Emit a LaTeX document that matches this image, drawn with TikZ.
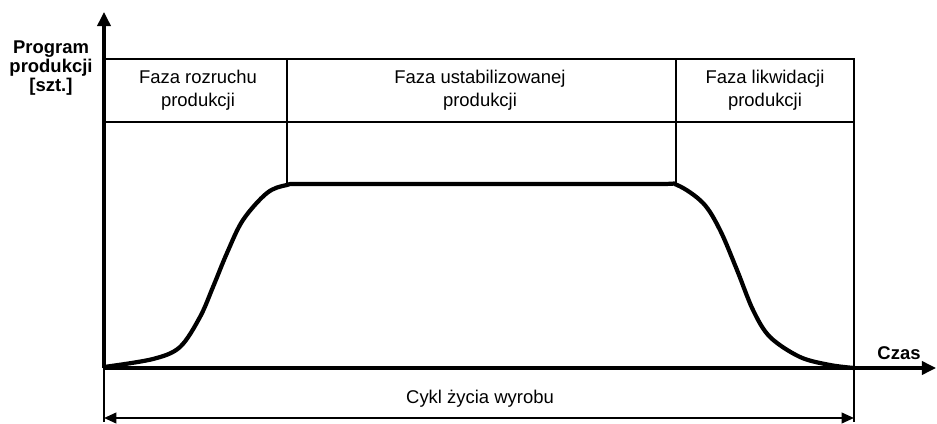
\documentclass[tikz,border=0pt]{standalone}
\usepackage{fontspec}
\setmainfont{Liberation Sans}
\usetikzlibrary{arrows.meta}
\begin{document}
\begin{tikzpicture}[x=0.02cm,y=0.02cm,
  axis/.style={line width=1.8pt,-{Triangle[length=8pt,width=7.5pt]}},
  frame/.style={line width=1.1pt},
  divider/.style={line width=0.6pt},
  lifecurve/.style={line width=2.4pt,line join=round},
  span/.style={line width=1.2pt,{Triangle[length=7pt,width=6pt]}-{Triangle[length=7pt,width=6pt]}},
  phase/.style={align=center,font=\fontsize{10.5pt}{13pt}\selectfont},
  axislabel/.style={align=center,font=\fontsize{10.5pt}{11pt}\selectfont\bfseries}]
\useasboundingbox (0,0) rectangle (937,423);

% axes
\coordinate (O) at (104,55);
\coordinate (ytop) at (104,411);
\coordinate (xend) at (936,55);
\draw[axis] (O) -- (ytop);
\draw[axis] (O) -- (xend);
\node[axislabel] (ylab) at (51,355) {Program\\produkcji\\{[szt.]}};
\node[axislabel] (xlab) at (899,70) {Czas};

% table of phases
\coordinate (boxNW) at (104,364);
\coordinate (boxSE) at (854,301);
\draw[frame] (boxNW) rectangle (boxSE);
\node[phase] (rozruch) at (198,333) {Faza rozruchu\\produkcji};
\node[phase] (ustab) at (480,333) {Faza ustabilizowanej\\produkcji};
\node[phase] (likw) at (765,333) {Faza likwidacji\\produkcji};

% phase limits
\coordinate (d1top) at (287,364);
\coordinate (d1bot) at (287,238);
\coordinate (d2top) at (676,364);
\coordinate (d2bot) at (676,238);
\coordinate (endtop) at (854,364);
\coordinate (endbot) at (854,1);
\coordinate (startbot) at (104,1);
\draw[divider] (d1top) -- (d1bot);
\draw[divider] (d2top) -- (d2bot);
\draw[divider] (endtop) -- (endbot);
\draw[divider] (O) -- (startbot);

% production curve
\draw[lifecurve] plot[smooth,tension=0.55] coordinates {
  (104,56) (153,64) (180,76) (200,106) (213,136) (227,170) (243,203)
  (267,230) (287,238) (310,239) (480,239) (655,239) (677,238) (703,220)
  (720,193) (737,153) (753,113) (770,86) (800,66) (830,58) (854,55)};

% life cycle
\coordinate (spanL) at (104,5);
\coordinate (spanR) at (854,5);
\draw[span] (spanL) -- (spanR);
\node[phase] (cykl) at (480,24) {Cykl życia wyrobu};
\end{tikzpicture}
\end{document}
